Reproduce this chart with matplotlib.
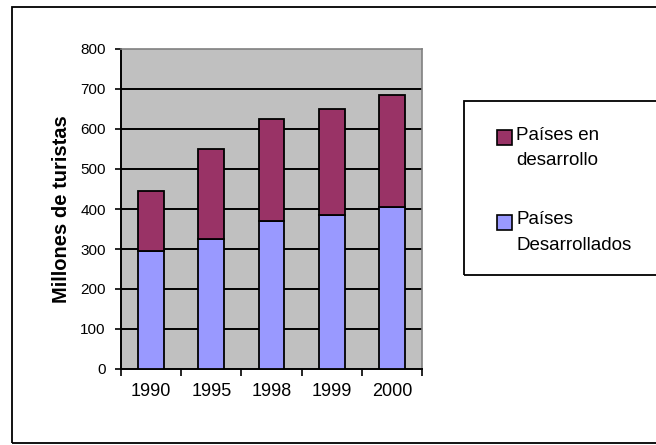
import numpy as np
import matplotlib.pyplot as plt
from matplotlib.patches import Rectangle

plt.rcParams['font.family'] = ['Liberation Sans', 'DejaVu Sans']

years = ['1990', '1995', '1998', '1999', '2000']
desarrollados = [295, 325, 369, 384, 404]
en_desarrollo = [150, 225, 256, 266, 280]
yticks = [0, 100, 200, 300, 400, 500, 600, 700, 800]

col_dev = '#9999FF'
col_ende = '#993366'

fig = plt.figure(figsize=(6.56, 4.45), dpi=100)
ax = fig.add_axes([121/656, 1 - 369/445, 301/656, 320/445])
ax.set_facecolor('#C0C0C0')

x = np.arange(len(years))
ax.bar(x, desarrollados, width=0.43, color=col_dev, edgecolor='black', linewidth=1.3, zorder=3)
ax.bar(x, en_desarrollo, width=0.43, bottom=desarrollados, color=col_ende,
       edgecolor='black', linewidth=1.3, zorder=3)

ax.set_xlim(-0.5, len(years) - 0.5)
ax.set_ylim(0, 800)
ax.set_yticks(yticks)
ax.set_yticklabels([str(v) for v in yticks], fontsize=11)
for v in yticks[1:-1]:
    ax.axhline(v, color='black', linewidth=1.4, zorder=1)

ax.set_xticks(x)
ax.set_xticklabels(years, fontsize=13)
ax.set_xticks(np.arange(-0.5, len(years)), minor=True)
ax.tick_params(axis='x', which='major', length=0, pad=10)
ax.tick_params(axis='x', which='minor', length=5, width=1.2, direction='out')
ax.tick_params(axis='y', length=4, width=1.2, direction='out', pad=7)

for s in ['top', 'right']:
    ax.spines[s].set_color('#808080')
    ax.spines[s].set_linewidth(1.2)
for s in ['left', 'bottom']:
    ax.spines[s].set_color('black')
    ax.spines[s].set_linewidth(1.4)

ax.set_ylabel('Millones de turistas', fontsize=14.5, fontweight='bold')
ax.yaxis.set_label_coords(-0.165, 0.5)

# outer chart border
fig.patches.append(Rectangle((12/656, 2/445), 1.2, 436/445, transform=fig.transFigure,
                             fill=False, edgecolor='black', linewidth=1.3))

# legend box
fig.patches.append(Rectangle((464/656, 1 - 275/445), 1.0, 174/445, transform=fig.transFigure,
                             fill=False, edgecolor='black', linewidth=1.3))

entries = [(col_ende, ['Países en', 'desarrollo'], 137.5),
           (col_dev, ['Países', 'Desarrollados'], 222)]
for color, lines, yc in entries:
    fig.patches.append(Rectangle((497/656, 1 - (yc + 7.5)/445), 15/656, 15/445,
                                 transform=fig.transFigure, facecolor=color,
                                 edgecolor='black', linewidth=1.2))
    for i, line in enumerate(lines):
        fig.text(516/656, 1 - (yc - 2 + i*25)/445, line, fontsize=13.5, va='center', ha='left')

plt.savefig('out.png', dpi=100)
